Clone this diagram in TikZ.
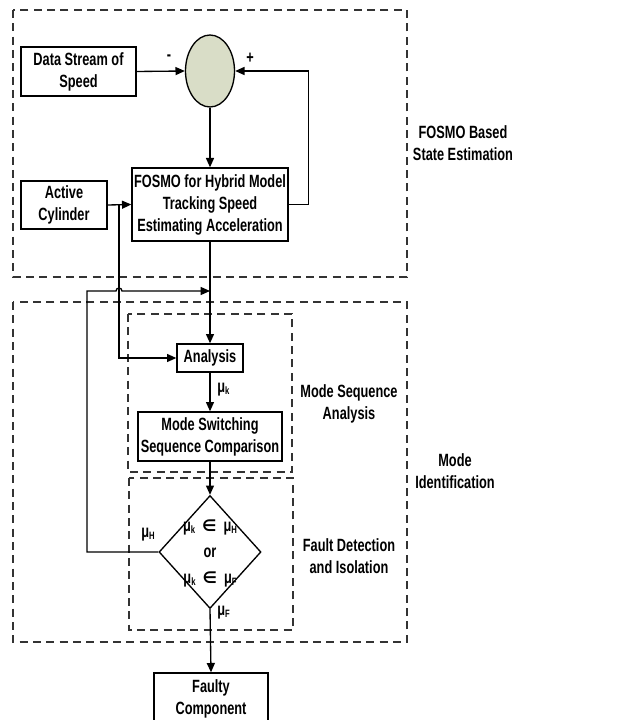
\documentclass[tikz,border=0pt]{standalone}
\usepackage{fontspec}
\setmainfont[FakeStretch=0.72,BoldFont={Liberation Sans Bold}]{Liberation Sans}
\newfontfamily\symf[FakeStretch=1]{DejaVu Sans}
\usetikzlibrary{arrows.meta,shapes.geometric}
\tikzset{
  txt/.style={font=\fontsize{13.3}{16.5}\selectfont\bfseries, align=center, inner sep=0pt},
  boxn/.style={txt, draw=black, line width=1pt, fill=white},
  arr/.style={line width=1pt, -{Triangle[length=7pt,width=6pt]}},
  ln/.style={line width=1pt},
  region/.style={draw=black!80, line width=0.9pt, dash pattern=on 6pt off 4pt},
}
\newcommand{\mysub}[1]{\raisebox{-1.5pt}{\fontsize{8}{8}\selectfont #1}}
\begin{document}
\begin{tikzpicture}[x=0.75pt,y=-0.75pt]
\useasboundingbox (0,0) rectangle (639,720);
% regions
\draw[region] (13,10) rectangle (407,277);
\draw[region] (13,302) rectangle (407,642);
\draw[region] (128,314) rectangle (292,472);
\draw[region] (129,478) rectangle (293,630);
% nodes
\node[boxn, minimum width=86.25pt, minimum height=36.75pt] (ds) at (78.5,71.5) {Data Stream of\\Speed};
\node[ellipse, draw=black, line width=1pt, fill={rgb,255:red,217;green,221;blue,199}, minimum width=36.75pt, minimum height=54pt, inner sep=0pt] (sum) at (210,71) {};
\node[boxn, minimum width=117pt, minimum height=54.75pt] (fo) at (210,204.5) {FOSMO for Hybrid Model\\Tracking Speed\\Estimating Acceleration};
\node[boxn, minimum width=64.5pt, minimum height=36pt] (ac) at (64,205) {Active\\Cylinder};
\node[boxn, minimum width=49.5pt, minimum height=21pt] (ana) at (210,358) {Analysis};
\node[boxn, minimum width=108pt, minimum height=36.75pt] (ms) at (210,436.5) {Mode Switching\\Sequence Comparison};
\node[diamond, draw=black, line width=1pt, minimum width=76.5pt, minimum height=84.75pt, inner sep=0pt] (dia) at (210,552) {};
\node[txt] (dtxt) at (210,553) {μ\mysub{k}\ \ {\symf\fontsize{12}{12}\selectfont ∈}\ \ μ\mysub{H}\\[3pt]or\\[3pt]μ\mysub{k}\ \ {\symf\fontsize{12}{12}\selectfont ∈}\ \ μ\mysub{F}};
\node[boxn, minimum width=85.5pt, minimum height=38.25pt] (fc) at (211,698.5) {Faulty\\Component};
% labels
\node[txt] (lminus) at (169,58) {-};
\node[txt] (lplus) at (250,58) {+};
\node[txt, anchor=west] (lmuk) at (217,390) {μ\mysub{k}};
\node[txt] (lmuh) at (148,535) {μ\mysub{H}};
\node[txt, anchor=west] (lmuf) at (217,613) {μ\mysub{F}};
\node[txt] (r1) at (463,143) {FOSMO Based\\State Estimation};
\node[txt] (r2) at (349,404) {Mode Sequence\\Analysis};
\node[txt] (r3) at (455,471) {Mode\\Identification};
\node[txt] (r4) at (349,556) {Fault Detection\\and Isolation};
% connectors
\coordinate (br) at (119,205);
\coordinate (mg) at (210,291);
\coordinate (fb) at (87,552);
\draw[arr] (ds.east) -- (sum.west);
\draw[arr] (sum.south) -- (fo.north);
\draw[arr] (fo.east) -- ++(20,0) |- (sum.east);
\draw[arr] (ac.east) -- (fo.west);
\draw[arr] (br) |- (ana.west);
\draw[arr] (fo.south) -- (ana.north);
\draw[arr] (ana.south) -- (ms.north);
\draw[arr] (ms.south) -- (dia.north);
\draw[arr] (dia.south) -- (fc.north);
\draw[arr] (dia.west) -- (fb) -- (fb |- mg) -- (116,291) arc[start angle=180,end angle=0,radius=2.25pt] -- (mg);
\end{tikzpicture}
\end{document}
